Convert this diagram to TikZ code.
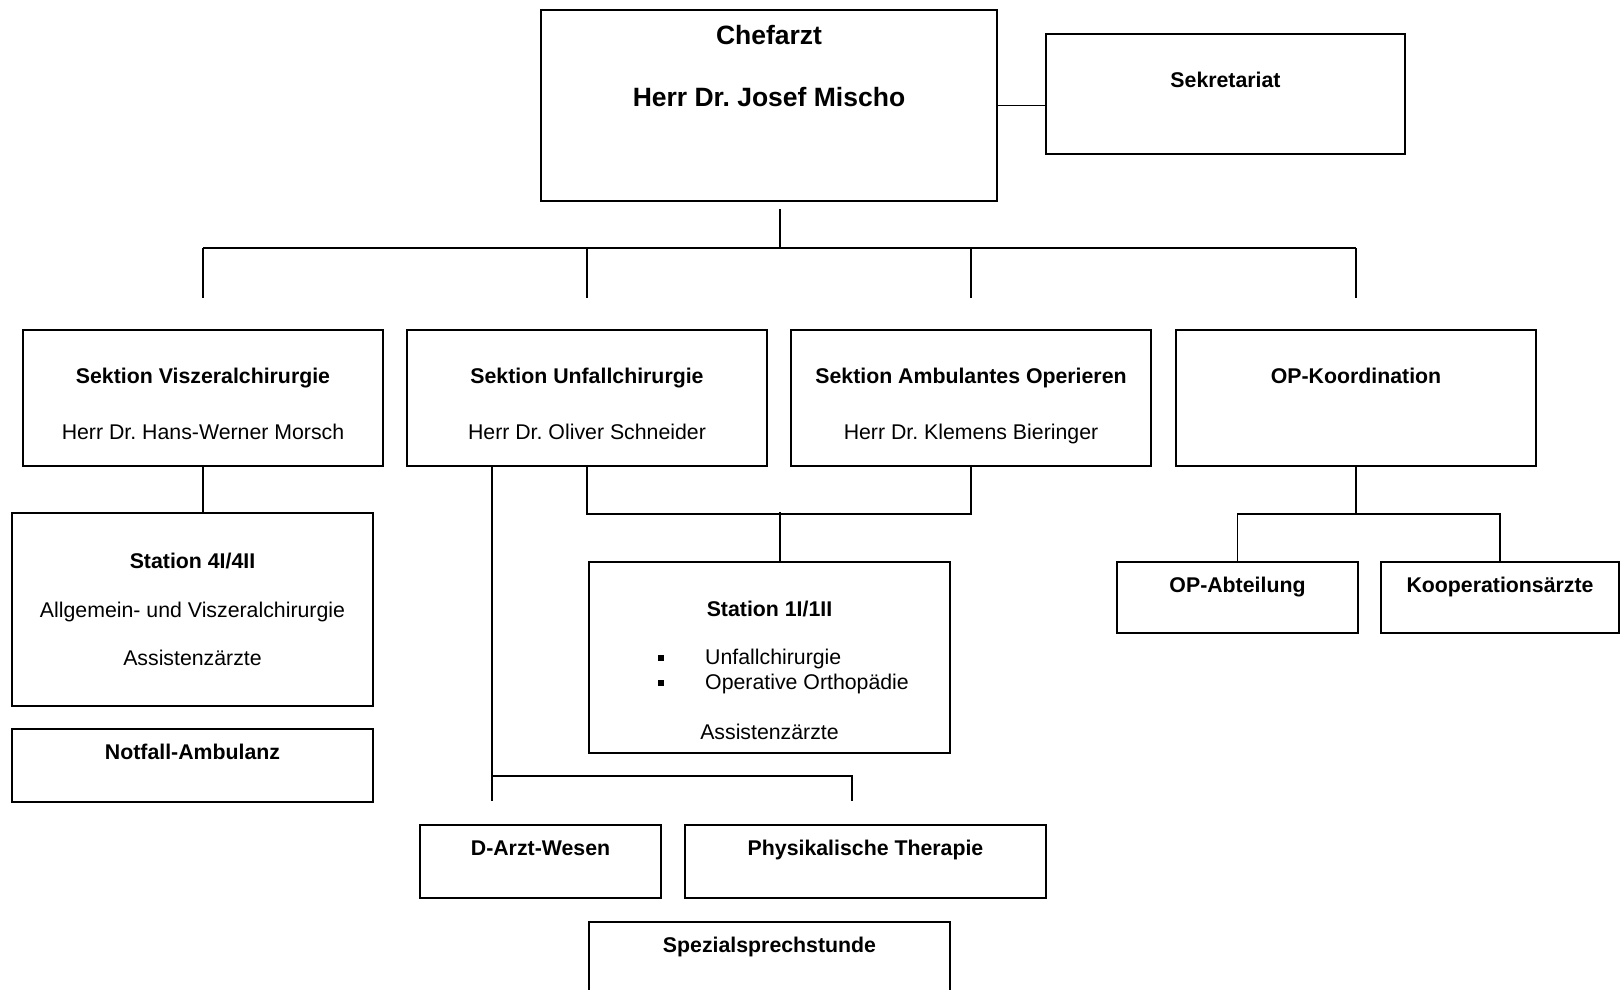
\documentclass[tikz,border=0pt]{standalone}
\usepackage{fontspec}
\setmainfont{Liberation Sans}
\usetikzlibrary{calc}
\frenchspacing

\tikzset{
  box/.style={draw, line width=2pt, anchor=north west, inner sep=0pt},
  head/.style={anchor=base, inner sep=0pt, font=\fontsize{21.3}{25}\selectfont\bfseries},
  txt/.style={anchor=base, inner sep=0pt, font=\fontsize{21.3}{25}\selectfont},
  big/.style={anchor=base, inner sep=0pt, font=\fontsize{26.5}{31}\selectfont\bfseries},
  conn/.style={line width=1.6pt},
  dot/.style={fill, inner sep=0pt, minimum size=6pt},
}

\begin{document}
\begin{tikzpicture}[x=1pt, y=-1pt]
  \useasboundingbox (0,0) rectangle (1620,990);

  % Chefarzt und Sekretariat
  \node[box, minimum width=456pt, minimum height=191pt] (chef) at (540,9) {};
  \node[big] (chef-t) at ($(chef.north)+(0,35.6)$) {Chefarzt};
  \node[big] (chef-n) at ($(chef.north)+(0,97.6)$) {Herr Dr. Josef Mischo};
  \node[box, minimum width=359pt, minimum height=120pt] (sekr) at (1045,33) {};
  \node[head] (sekr-t) at ($(sekr.north)+(0,55)$) {Sekretariat};
  \draw[conn] (chef.east) -- (chef.east -| sekr.west);

  % Sektionen
  \foreach \i/\x in {1/22, 2/406, 3/790, 4/1175} {
    \node[box, minimum width=360pt, minimum height=136pt] (sek-\i) at (\x,329) {};
  }
  \foreach \i/\t/\n in {1/Sektion Viszeralchirurgie/Herr Dr. Hans-Werner Morsch,
                        2/Sektion Unfallchirurgie/Herr Dr. Oliver Schneider,
                        3/Sektion Ambulantes Operieren/Herr Dr. Klemens Bieringer} {
    \node[head] (sek-\i-t) at ($(sek-\i.north)+(0,54.6)$) {\t};
    \node[txt] (sek-\i-n) at ($(sek-\i.north)+(0,110.5)$) {\n};
  }
  \node[head] (sek-4-t) at ($(sek-4.north)+(0,54.6)$) {OP-Koordination};

  \coordinate (hub) at (780,248);
  \draw[conn] ($(hub |- chef.south)+(0,7)$) -- (hub);
  \draw[conn] (sek-1.north |- hub) -- (sek-4.north |- hub);
  \foreach \i in {1,...,4} {
    \draw[conn] (sek-\i.north |- hub) -- ($(sek-\i.north)+(0,-31)$);
  }

  % Viszeralchirurgie
  \node[box, minimum width=361pt, minimum height=193pt] (st4) at (11,512) {};
  \node[head] (st4-t) at ($(st4.north)+(0,56.6)$) {Station 4I/4II};
  \node[txt] (st4-a) at ($(st4.north)+(0,105.2)$) {Allgemein- und Viszeralchirurgie};
  \node[txt] (st4-b) at ($(st4.north)+(0,153.7)$) {Assistenzärzte};
  \node[box, minimum width=361pt, minimum height=73pt] (notf) at (11,728) {};
  \node[head] (notf-t) at ($(notf.north)+(0,31.8)$) {Notfall-Ambulanz};
  \draw[conn] (sek-1.south) -- (sek-1.south |- st4.north);

  % Unfallchirurgie und Ambulantes Operieren
  \node[box, minimum width=361pt, minimum height=191pt] (st1) at (588,561) {};
  \node[head] (st1-t) at ($(st1.north)+(0,55.2)$) {Station 1I/1II};
  \node[dot] (b-1) at (661,658) {};
  \node[dot] (b-2) at (661,683) {};
  \node[txt, anchor=base west] (i-1) at (705,664.7) {Unfallchirurgie};
  \node[txt, anchor=base west] (i-2) at (705,689.5) {Operative Orthopädie};
  \node[txt] (st1-b) at ($(st1.north)+(0,178.1)$) {Assistenzärzte};
  \draw[conn] (sek-2.south) -- ++(0,47) -| (sek-3.south);
  \coordinate (m) at (hub |- st4.north);
  \draw[conn] (m) -- (m |- st1.north);

  \node[box, minimum width=241pt, minimum height=73pt] (darzt) at (419,824) {};
  \node[head] (darzt-t) at ($(darzt.north)+(0,31.9)$) {D-Arzt-Wesen};
  \node[box, minimum width=361pt, minimum height=73pt] (phys) at (684,824) {};
  \node[head] (phys-t) at ($(phys.north)+(0,31.9)$) {Physikalische Therapie};
  \node[box, minimum width=361pt, minimum height=100pt] (spez) at (588,921) {};
  \node[head] (spez-t) at ($(spez.north)+(0,31)$) {Spezialsprechstunde};
  \coordinate (d-l) at (492,801);
  \coordinate (d-r) at (852,801);
  \draw[conn] (d-l |- sek-2.south) -- (d-l);
  \draw[conn] ($(d-l)+(0,-25)$) -| (d-r);

  % OP-Koordination
  \node[box, minimum width=241pt, minimum height=71pt] (opa) at (1116,561) {};
  \node[head] (opa-t) at ($(opa.north)+(0,31.4)$) {OP-Abteilung};
  \node[box, minimum width=238pt, minimum height=71pt] (koop) at (1380,561) {};
  \node[head] (koop-t) at ($(koop.north)+(0,31.4)$) {Kooperationsärzte};
  \draw[conn] (sek-4.south) -- ++(0,47) coordinate (o-m);
  \draw[conn] (opa.north) |- (o-m) -| (koop.north);

\end{tikzpicture}
\end{document}
